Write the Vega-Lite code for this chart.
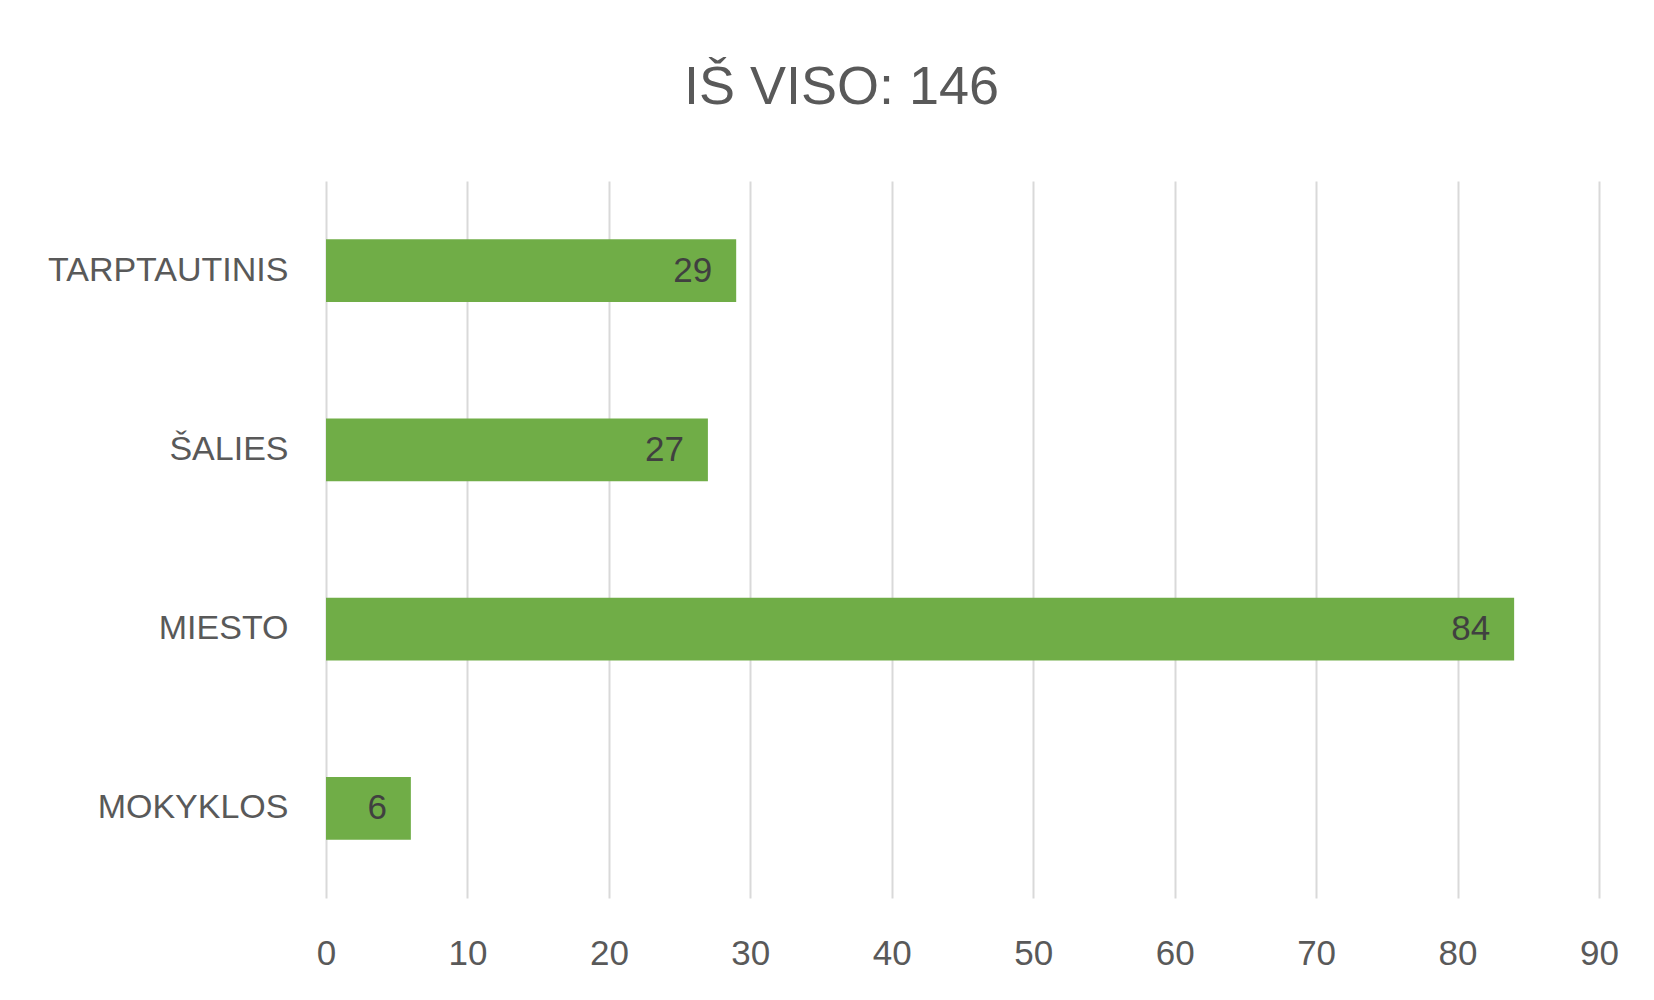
{
  "$schema": "https://vega.github.io/schema/vega-lite/v6.json",
  "autosize": {"type": "none"},
  "width": 1273,
  "height": 717,
  "padding": {"left": 326, "top": 181, "right": 55, "bottom": 102},
  "background": "white",
  "config": {
    "view": {"stroke": null},
    "font": "Liberation Sans"
  },
  "title": {
    "text": "IŠ VISO: 146",
    "fontSize": 54,
    "font": "Liberation Sans",
    "fontWeight": "normal",
    "color": "#595959",
    "anchor": "middle",
    "dx": -121,
    "offset": 66
  },
  "data": {
    "values": [
      {"kategorija": "TARPTAUTINIS", "kiekis": 29},
      {"kategorija": "ŠALIES", "kiekis": 27},
      {"kategorija": "MIESTO", "kiekis": 84},
      {"kategorija": "MOKYKLOS", "kiekis": 6}
    ]
  },
  "encoding": {
    "y": {
      "field": "kategorija",
      "type": "nominal",
      "sort": null,
      "scale": {"paddingInner": 0.65, "paddingOuter": 0.325},
      "axis": {
        "title": null,
        "domain": false,
        "ticks": false,
        "labelFontSize": 34,
        "labelColor": "#595959",
        "labelPadding": 38,
        "labelLimit": 0,
        "labelFont": "Liberation Sans"
      }
    },
    "x": {
      "field": "kiekis",
      "type": "quantitative",
      "scale": {"domain": [0, 90], "nice": false},
      "axis": {
        "title": null,
        "values": [0, 10, 20, 30, 40, 50, 60, 70, 80, 90],
        "domain": false,
        "ticks": false,
        "grid": true,
        "gridColor": "#d9d9d9",
        "gridWidth": 2,
        "labelFontSize": 35,
        "labelColor": "#595959",
        "labelPadding": 38,
        "labelFlush": false,
        "labelOverlap": false,
        "labelFont": "Liberation Sans"
      }
    }
  },
  "layer": [
    {"mark": {"type": "bar", "color": "#70AD47"}},
    {
      "mark": {"type": "text", "align": "right", "baseline": "middle", "dx": -24, "fontSize": 35, "color": "#404040", "font": "Liberation Sans"},
      "encoding": {"text": {"field": "kiekis", "type": "quantitative"}}
    }
  ]
}
